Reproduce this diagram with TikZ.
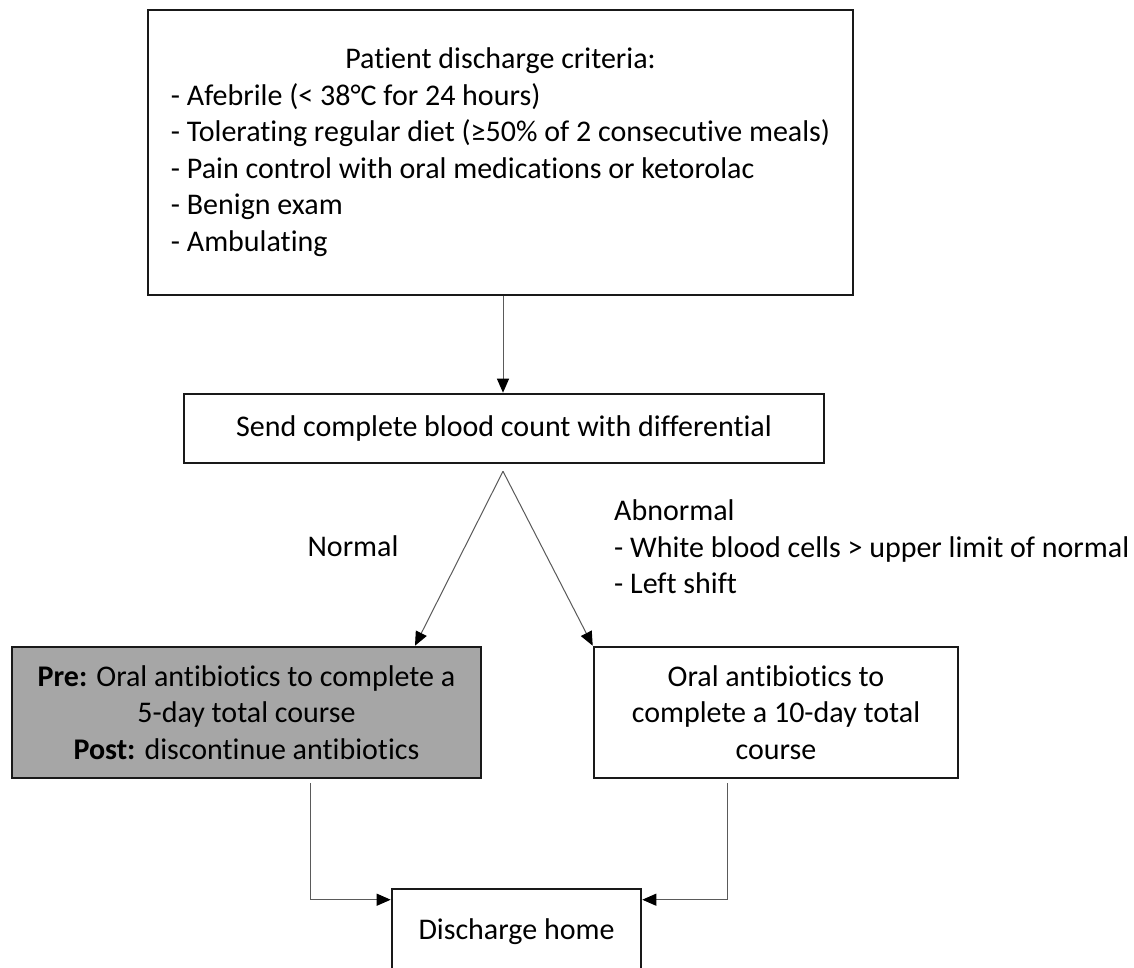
\documentclass[tikz,border=0pt]{standalone}
\usepackage{fontspec}
\setmainfont{Carlito}[Ligatures=NoCommon]
\usetikzlibrary{arrows.meta}
\definecolor{boxgray}{RGB}{166,166,166}
\definecolor{linegray}{RGB}{90,90,90}
\newcommand{\fs}{\fontsize{30}{36.5}\selectfont}
\begin{document}
\begin{tikzpicture}[x=1pt,y=-1pt,
  box/.style={draw=black!90, line width=2.6pt, rectangle, inner sep=0pt, font=\fs, align=center},
  lbl/.style={inner sep=0pt, font=\fs},
  conn/.style={draw=linegray, line width=1pt, -{Triangle[length=14pt,width=12pt,color=black]}}]
\clip (0,0) rectangle (1134,967);
\fill[white] (0,0) rectangle (1134,967);

\node[box, minimum width=705pt, minimum height=285pt] (crit) at (500.5,152.5)
  {\begin{tabular}{@{}l@{}}
   \multicolumn{1}{@{}c@{}}{Patient discharge criteria:}\\
   - Afebrile (< 38°C for 24 hours)\\
   - Tolerating regular diet (≥50\% of 2 consecutive meals)\\
   - Pain control with oral medications or ketorolac\\
   - Benign exam\\
   - Ambulating
   \end{tabular}};

\node[box, minimum width=640pt, minimum height=69pt] (cbc) at (504,428.5)
  {Send complete blood count with differential};

\node[box, fill=boxgray, minimum width=469pt, minimum height=131pt] (pre) at (246.5,712.5)
  {\textbf{Pre:} Oral antibiotics to complete a\\5-day total course\\\textbf{Post:} discontinue antibiotics};

\node[box, minimum width=364pt, minimum height=131pt] (ab) at (776,712.5)
  {Oral antibiotics to\\complete a 10-day total\\course};

\node[box, minimum width=249pt, minimum height=86pt] (home) at (516.5,932)
  {Discharge home};

\node[lbl] (nrm) at (353,546) {Normal};
\node[lbl, anchor=west, align=left] (abn) at (614,547)
  {Abnormal\\- White blood cells > upper limit of normal\\- Left shift};

\draw[conn] ([xshift=2.5pt]crit.south) -- ([xshift=-1pt]cbc.north);
\coordinate (split) at ([xshift=-1pt,yshift=-7pt]cbc.south);
\draw[conn] (split) -- ([xshift=168.5pt]pre.north);
\draw[conn] (split) -- (ab.north west);
\draw[conn] ([xshift=63.5pt,yshift=-4pt]pre.south) |- ([yshift=-12pt]home.north west);
\draw[conn] ([xshift=-49pt,yshift=-4pt]ab.south) |- ([yshift=-12pt]home.north east);
\end{tikzpicture}
\end{document}
